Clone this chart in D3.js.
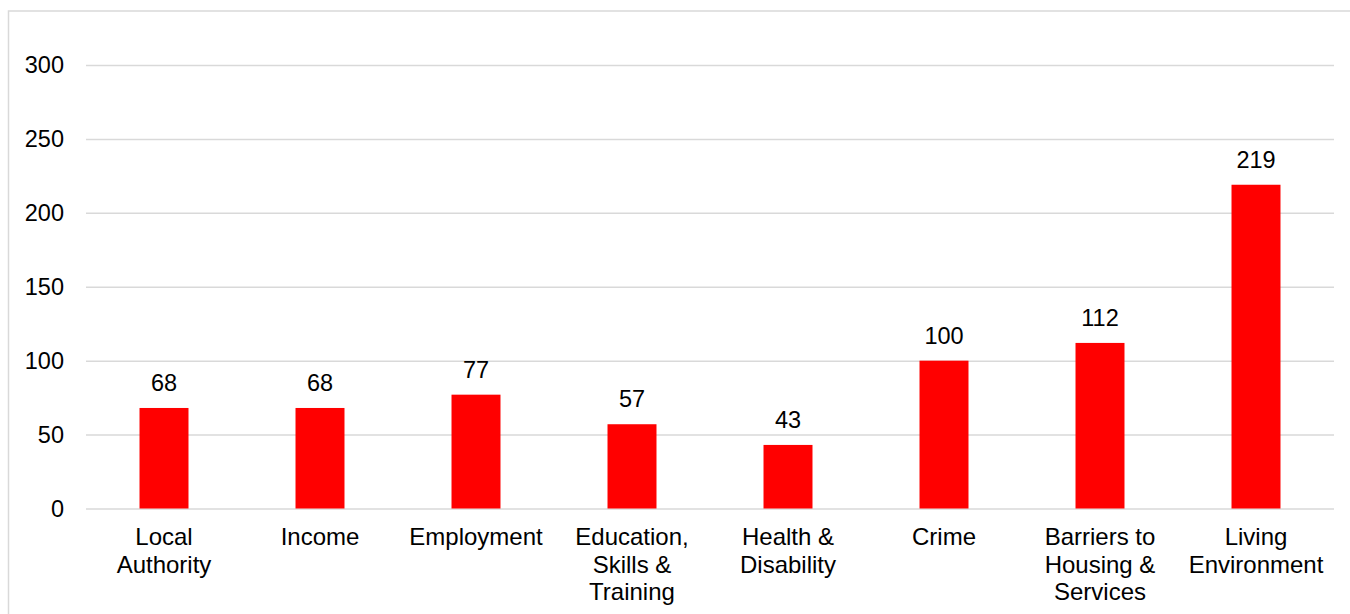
<!DOCTYPE html>
<html>
<head>
<meta charset="utf-8">
<script src="https://cdn.jsdelivr.net/npm/d3@7"></script>
<style>
  html, body { margin: 0; padding: 0; background: #fff; }
  svg { display: block; }
  text { font-family: Arial, "Liberation Sans", sans-serif; fill: #000; }
</style>
</head>
<body>
<svg id="chart" width="1350" height="614"></svg>
<script>
const categories = [
  ["Local", "Authority"],
  ["Income"],
  ["Employment"],
  ["Education,", "Skills &", "Training"],
  ["Health &", "Disability"],
  ["Crime"],
  ["Barriers to", "Housing &", "Services"],
  ["Living", "Environment"]
];
const values = [68, 68, 77, 57, 43, 100, 112, 219];
const yTicks = [0, 50, 100, 150, 200, 250, 300];

const W = 1350, H = 614;
const plotLeft = 86, plotRight = 1334, plotTop = 65, plotBottom = 508.5;
const fontSize = 24;

const svg = d3.select("#chart");

// outer border
svg.append("rect")
  .attr("x", 8.5).attr("y", 11)
  .attr("width", W + 20).attr("height", H + 20)
  .attr("fill", "none").attr("stroke", "#d9d9d9").attr("stroke-width", 1.5);

const keys = categories.map((c, i) => i);
const x = d3.scaleBand().domain(keys).range([plotLeft, plotRight]).paddingInner(0.686).paddingOuter(0.343);
const y = d3.scaleLinear().domain([0, 300]).range([plotBottom, plotTop]);

// gridlines + y tick labels
const yAxis = d3.axisLeft(y).tickValues(yTicks).tickSize(-(plotRight - plotLeft)).tickPadding(22);
const gy = svg.append("g").attr("transform", `translate(${plotLeft},0)`).call(yAxis);
gy.select(".domain").remove();
gy.selectAll(".tick line").attr("stroke", "#d9d9d9").attr("stroke-width", 1.5);
gy.selectAll(".tick text")
  .attr("font-size", fontSize - 0.5)
  .attr("font-family", "Arial, 'Liberation Sans', sans-serif")
  .attr("fill", "#000");

// bars
svg.append("g").selectAll("rect")
  .data(values)
  .join("rect")
  .attr("x", (d, i) => x(i))
  .attr("y", d => y(d))
  .attr("width", x.bandwidth())
  .attr("height", d => y(0) - y(d))
  .attr("fill", "#ff0000");

// value labels
svg.append("g").selectAll("text")
  .data(values)
  .join("text")
  .attr("x", (d, i) => x(i) + x.bandwidth() / 2)
  .attr("y", d => y(d) - 17)
  .attr("text-anchor", "middle")
  .attr("font-size", fontSize - 0.5)
  .text(d => d);

// category labels
const xAxis = d3.axisBottom(x).tickSize(0).tickFormat(() => "");
const gx = svg.append("g").attr("transform", `translate(0,${plotBottom})`).call(xAxis);
gx.select(".domain").remove();

const labels = svg.append("g");
categories.forEach((lines, i) => {
  const cx = x(i) + x.bandwidth() / 2;
  const t = labels.append("text")
    .attr("text-anchor", "middle")
    .attr("font-size", fontSize)
    .attr("x", cx)
    .attr("y", 545);
  lines.forEach((ln, j) => {
    t.append("tspan")
      .attr("x", cx)
      .attr("dy", j === 0 ? 0 : 27.5)
      .text(ln);
  });
});
</script>
</body>
</html>
